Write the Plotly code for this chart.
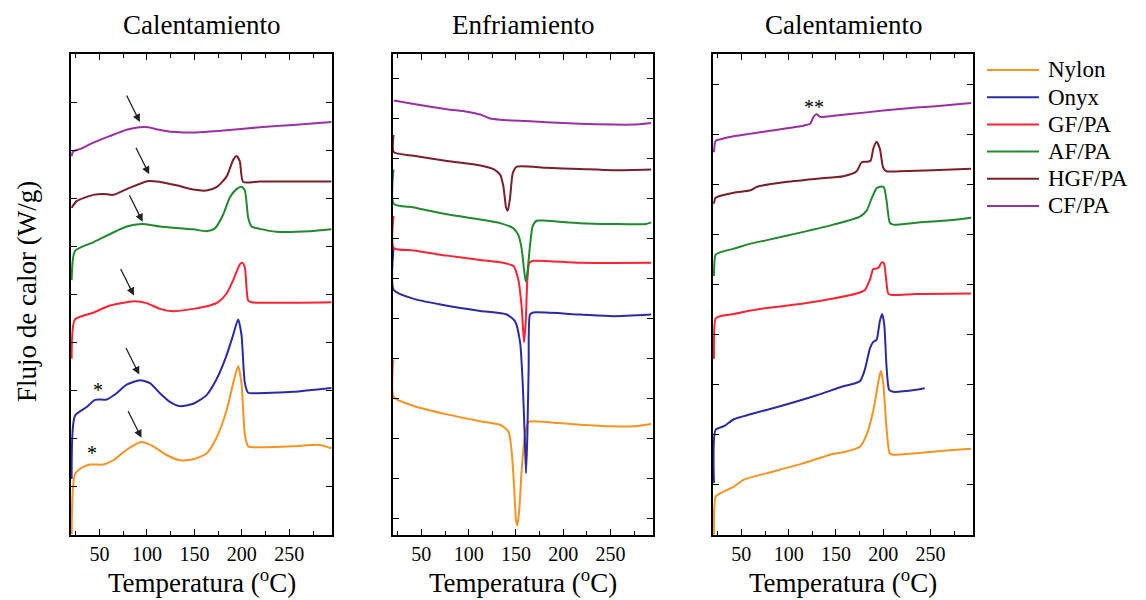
import plotly.graph_objects as go

# ---------------- DATA ----------------
names = ["Nylon", "Onyx", "GF/PA", "AF/PA", "HGF/PA", "CF/PA"]
colors = ["#F7931E", "#2B2BA8", "#FF2233", "#1F8A2E", "#7A1F2B", "#9B2FA5"]
panel_titles = ["Calentamiento", "Enfriamiento", "Calentamiento"]
x_title = "Temperatura (<sup>o</sup>C)"
y_title = "Flujo de calor (W/g)"
x_tick_vals = [50, 100, 150, 200, 250]
x_minor_vals = [25, 75, 125, 175, 225, 275]

# Panel 1: first heating
h1_nylon_T = [20.7, 24.2, 33, 40, 54, 64.5, 78.6, 94.4, 106.7, 120.7, 134.7, 148.8, 162.8, 173.3, 183.9, 190.9, 196.1, 199.6, 203.2, 206.7, 218.9, 254, 282.1, 294.4]
h1_nylon_v = [0.0, 1.25, 1.40, 1.45, 1.45, 1.54, 1.76, 1.92, 1.83, 1.65, 1.54, 1.56, 1.68, 2.01, 2.58, 3.15, 3.51, 3.15, 2.08, 1.83, 1.81, 1.83, 1.86, 1.79]
h1_onyx_T = [20.7, 24.2, 36.5, 45.3, 57.5, 68.1, 78.6, 92.7, 103.2, 113.7, 124.2, 134.7, 148.8, 162.8, 173.3, 183.9, 190.9, 196.1, 199.6, 203.2, 206.7, 212, 254, 294.4]
h1_onyx_v = [1.15, 2.47, 2.65, 2.80, 2.81, 2.94, 3.12, 3.21, 3.15, 2.94, 2.76, 2.67, 2.72, 2.90, 3.23, 3.73, 4.16, 4.48, 4.16, 3.15, 2.95, 2.94, 2.97, 3.05]
h1_gf_T = [20.7, 24.2, 43.5, 61.1, 78.6, 87.4, 99.6, 113.7, 127.7, 148.8, 166.3, 175.1, 183.9, 190.9, 197.9, 200.7, 203.2, 206.7, 210.2, 294.4]
h1_gf_v = [3.66, 4.48, 4.62, 4.77, 4.84, 4.86, 4.82, 4.70, 4.65, 4.70, 4.77, 4.84, 5.02, 5.30, 5.63, 5.66, 5.56, 4.87, 4.84, 4.84]
h1_af_T = [20.7, 24.2, 43.5, 78.6, 94.4, 113.7, 148.8, 162.8, 171.6, 180.4, 187.4, 194.4, 199.6, 203.2, 206.7, 210.2, 218.9, 236.5, 271.6, 294.4]
h1_af_v = [5.30, 5.91, 6.09, 6.42, 6.47, 6.42, 6.36, 6.32, 6.38, 6.67, 7.03, 7.20, 7.25, 7.17, 6.60, 6.42, 6.37, 6.31, 6.32, 6.36]
h1_hgf_T = [20.7, 26, 43.5, 54, 64.5, 78.6, 101.4, 113.7, 131.2, 148.8, 162.8, 173.3, 183.9, 190.9, 194.4, 197.9, 201.4, 218.9, 294.4]
h1_hgf_v = [6.81, 6.95, 7.08, 7.10, 7.08, 7.20, 7.37, 7.35, 7.28, 7.19, 7.17, 7.24, 7.46, 7.81, 7.89, 7.78, 7.35, 7.36, 7.36]
h1_cf_T = [20.7, 22.4, 30, 43.5, 60, 78.6, 92, 101.4, 110, 118, 131.2, 148.8, 166.3, 183.9, 218.9, 254, 294.4]
h1_cf_v = [7.89, 7.99, 8.04, 8.17, 8.30, 8.44, 8.49, 8.49, 8.45, 8.42, 8.39, 8.38, 8.40, 8.43, 8.49, 8.54, 8.60]

# Panel 2: cooling
c_nylon_T = [20.5, 20.8, 42.1, 77.2, 112.3, 133.3, 142.1, 145.6, 148.1, 150.2, 151.6, 153.7, 156.1, 159.6, 163.2, 168.4, 217.5, 252.6, 273.7, 293]
c_nylon_v = [3.98, 3.04, 2.82, 2.61, 2.44, 2.35, 2.18, 1.66, 0.80, -0.06, -0.16, 0.28, 1.23, 2.09, 2.42, 2.44, 2.35, 2.31, 2.31, 2.37]
c_onyx_T = [20.5, 20.8, 42.1, 77.2, 112.3, 140.4, 149.1, 154.4, 157.2, 159.3, 160.7, 162.1, 163.5, 164.9, 168.4, 217.5, 252.6, 293]
c_onyx_v = [6.74, 5.71, 5.49, 5.32, 5.19, 5.10, 4.93, 4.41, 3.38, 2.09, 1.14, 2.09, 3.81, 5.10, 5.15, 5.10, 5.06, 5.10]
c_gf_T = [20.5, 20.8, 42.1, 77.2, 112.3, 136.8, 147.4, 152.6, 156.1, 158.6, 160.4, 162.1, 164.2, 168.4, 217.5, 293]
c_gf_v = [7.56, 6.76, 6.70, 6.57, 6.46, 6.39, 6.31, 5.96, 5.28, 4.41, 4.93, 5.96, 6.39, 6.44, 6.39, 6.39]
c_af_T = [20.5, 20.8, 42.1, 77.2, 112.3, 133.3, 147.4, 152.6, 156.1, 158.6, 160.4, 162.1, 164.9, 167.7, 171.9, 182.5, 217.5, 252.6, 287.7, 293]
c_af_v = [8.72, 7.86, 7.77, 7.60, 7.47, 7.38, 7.25, 7.08, 6.74, 6.22, 5.92, 6.14, 6.82, 7.30, 7.44, 7.44, 7.38, 7.36, 7.36, 7.40]
c_hgf_T = [20.5, 20.8, 42.1, 77.2, 112.3, 126.3, 133.3, 136.8, 139.6, 141.4, 143.9, 146.7, 150.9, 182.5, 217.5, 252.6, 293]
c_hgf_v = [9.58, 9.15, 9.06, 8.93, 8.82, 8.73, 8.59, 8.29, 7.77, 7.69, 8.03, 8.63, 8.79, 8.76, 8.73, 8.70, 8.72]
c_cf_T = [20.8, 42.1, 77.2, 98.2, 112.3, 122.8, 133.3, 147.4, 182.5, 217.5, 252.6, 273.7, 293]
c_cf_v = [10.44, 10.35, 10.22, 10.16, 10.09, 9.99, 9.96, 9.94, 9.90, 9.86, 9.84, 9.84, 9.88]

# Panel 3: second heating
h2_nylon_T = [21, 22.8, 28.1, 42.1, 52.6, 77.2, 112.3, 147.4, 157.9, 175.4, 182.5, 189.5, 194.7, 197.5, 200, 203.5, 207, 210.5, 235.1, 270.2, 293]
h2_nylon_v = [-0.01, 0.75, 0.82, 0.95, 1.09, 1.22, 1.40, 1.61, 1.64, 1.75, 1.99, 2.47, 3.03, 3.27, 3.03, 2.13, 1.61, 1.59, 1.62, 1.68, 1.71]
h2_onyx_T = [21, 22.8, 31.6, 42.1, 59.6, 94.7, 129.8, 157.9, 168.4, 175.4, 180.7, 186, 189.5, 193, 196.5, 198.9, 201.1, 203.5, 206.3, 210.5, 235.1, 243.9]
h2_onyx_v = [1.02, 2.09, 2.16, 2.30, 2.40, 2.58, 2.78, 2.96, 3.01, 3.06, 3.30, 3.72, 3.85, 3.89, 4.27, 4.41, 4.20, 3.37, 2.89, 2.85, 2.89, 2.92]
h2_gf_T = [21, 22.8, 28.1, 42.1, 59.6, 77.2, 112.3, 147.4, 171.9, 180.7, 186, 189.5, 193, 195.4, 198.2, 200.7, 202.8, 205.3, 208.8, 235.1, 293]
h2_gf_v = [3.51, 4.32, 4.37, 4.41, 4.48, 4.53, 4.61, 4.72, 4.82, 4.89, 5.10, 5.31, 5.32, 5.34, 5.44, 5.43, 5.17, 4.82, 4.79, 4.81, 4.82]
h2_af_T = [21, 22.8, 28.1, 42.1, 59.6, 77.2, 112.3, 147.4, 175.4, 182.5, 187.7, 193, 196.5, 200.7, 203.5, 207, 210.5, 235.1, 270.2, 293]
h2_af_v = [5.17, 5.60, 5.65, 5.72, 5.82, 5.89, 6.04, 6.20, 6.36, 6.48, 6.72, 6.93, 6.96, 6.95, 6.69, 6.24, 6.20, 6.24, 6.29, 6.34]
h2_hgf_T = [21, 22.8, 42.1, 59.6, 66.7, 94.7, 129.8, 157.9, 171.9, 177.2, 182.5, 186.7, 189.5, 193, 196.5, 200, 203.5, 217.5, 252.6, 293]
h2_hgf_v = [6.62, 6.74, 6.84, 6.89, 6.96, 7.05, 7.12, 7.17, 7.27, 7.45, 7.46, 7.48, 7.72, 7.86, 7.72, 7.34, 7.27, 7.27, 7.29, 7.32]
h2_cf_T = [21, 22.8, 28.1, 42.1, 77.2, 112.3, 122.8, 126.3, 129.8, 133.3, 147.4, 182.5, 217.5, 252.6, 293]
h2_cf_v = [7.65, 7.88, 7.91, 7.97, 8.07, 8.17, 8.22, 8.36, 8.41, 8.36, 8.38, 8.45, 8.52, 8.57, 8.64]

# Arrow heads (panel 1) and asterisk marks
arrow_T = [94.2, 91.9, 86.3, 95.5, 102.4, 92.6]
arrow_v = [2.01, 3.33, 4.98, 6.52, 7.51, 8.60]
star_T = [41.8, 48.1]
star_v = [1.69, 3.01]
dstar_T = [126.3]
dstar_v = [8.55]

panels = [
    [(h1_nylon_T, h1_nylon_v), (h1_onyx_T, h1_onyx_v), (h1_gf_T, h1_gf_v),
     (h1_af_T, h1_af_v), (h1_hgf_T, h1_hgf_v), (h1_cf_T, h1_cf_v)],
    [(c_nylon_T, c_nylon_v), (c_onyx_T, c_onyx_v), (c_gf_T, c_gf_v),
     (c_af_T, c_af_v), (c_hgf_T, c_hgf_v), (c_cf_T, c_cf_v)],
    [(h2_nylon_T, h2_nylon_v), (h2_onyx_T, h2_onyx_v), (h2_gf_T, h2_gf_v),
     (h2_af_T, h2_af_v), (h2_hgf_T, h2_hgf_v), (h2_cf_T, h2_cf_v)],
]
y_ranges = [[-0.02, 10.02], [-0.40, 11.60], [-0.02, 9.62]]
y_ticks = [list(range(0, 11)), list(range(0, 12)), list(range(0, 10))]

# ---------------- FIGURE ----------------
OFF = 8  # page body margin of the browser
W, H = 1146 - OFF, 600 - OFF
FONT = "Liberation Serif"


def fx(page_x):
    return (page_x - OFF) / W


def fy(page_y):
    return 1 - (page_y - OFF) / H


x_px = [(71, 332), (393, 653), (713, 973)]
x_domains = [[fx(a), fx(b)] for a, b in x_px]
y_domain = [fy(535), fy(54)]

fig = go.Figure()
for p, series in enumerate(panels):
    xa = "x" if p == 0 else f"x{p + 1}"
    ya = "y" if p == 0 else f"y{p + 1}"
    for i, (T, v) in enumerate(series):
        fig.add_trace(go.Scatter(
            x=T, y=v, mode="lines", name=names[i],
            line=dict(color=colors[i], width=2, shape="spline", smoothing=0.6),
            xaxis=xa, yaxis=ya, showlegend=False,
        ))

layout = dict(
    width=W, height=H,
    margin=dict(l=0, r=0, t=0, b=0, autoexpand=False),
    paper_bgcolor="white", plot_bgcolor="white",
    font=dict(family=FONT, color="black", size=20),
    showlegend=False,
)
for p in range(3):
    key = "" if p == 0 else str(p + 1)
    layout["xaxis" + key] = dict(
        domain=x_domains[p], range=[20, 295], anchor="y" + key,
        tickvals=x_tick_vals, ticks="inside", ticklen=6, tickwidth=1.3, tickcolor="black",
        minor=dict(tickvals=x_minor_vals, ticks="inside", ticklen=4,
                   tickwidth=1.1, tickcolor="black"),
        showline=True, linecolor="black", linewidth=1.6, mirror="ticks",
        showgrid=False, zeroline=False,
        tickfont=dict(family=FONT, size=20, color="black"),
        fixedrange=True,
    )
    layout["yaxis" + key] = dict(
        domain=y_domain, range=y_ranges[p], anchor="x" + key,
        tickvals=y_ticks[p], showticklabels=False,
        ticks="inside", ticklen=6, tickwidth=1.3, tickcolor="black",
        showline=True, linecolor="black", linewidth=1.6, mirror="ticks",
        showgrid=False, zeroline=False, fixedrange=True,
    )
fig.update_layout(**layout)

# Panel titles and x titles
for p in range(3):
    cx = fx((x_px[p][0] + x_px[p][1]) / 2)
    fig.add_annotation(text=panel_titles[p], xref="paper", yref="paper",
                       x=cx, y=fy(25), xanchor="center", yanchor="middle", showarrow=False,
                       font=dict(family=FONT, size=27, color="black"))
    fig.add_annotation(text=x_title, xref="paper", yref="paper",
                       x=cx, y=fy(581), xanchor="center", yanchor="middle", showarrow=False,
                       font=dict(family=FONT, size=27, color="black"))

# Y title
fig.add_annotation(text=y_title, xref="paper", yref="paper",
                   x=fx(27), y=fy(292), xanchor="center", yanchor="middle",
                   textangle=-90, showarrow=False,
                   font=dict(family=FONT, size=27, color="black"))

# Legend (drawn manually to match the reference spacing)
for i, name in enumerate(names):
    yy = fy(70 + 27.2 * i)
    fig.add_shape(type="line", xref="paper", yref="paper",
                  x0=fx(987), x1=fx(1039), y0=yy, y1=yy,
                  line=dict(color=colors[i], width=2))
    fig.add_annotation(text=name, xref="paper", yref="paper",
                       x=fx(1046), y=yy, xanchor="left", yanchor="middle", showarrow=False,
                       font=dict(family=FONT, size=23, color="black"))

# Arrows in panel 1
for T, v in zip(arrow_T, arrow_v):
    fig.add_annotation(x=T, y=v, xref="x", yref="y", text="", showarrow=True,
                       ax=-14, ay=-28, arrowhead=2, arrowsize=1.2, arrowwidth=1.3,
                       arrowcolor="#222222", standoff=0)
# Asterisks
for T, v in zip(star_T, star_v):
    fig.add_annotation(x=T, y=v, xref="x", yref="y", text="*", showarrow=False,
                       font=dict(family=FONT, size=20, color="black"))
for T, v in zip(dstar_T, dstar_v):
    fig.add_annotation(x=T, y=v, xref="x3", yref="y3", text="**", showarrow=False,
                       font=dict(family=FONT, size=20, color="black"))

fig.write_html("out.html")
